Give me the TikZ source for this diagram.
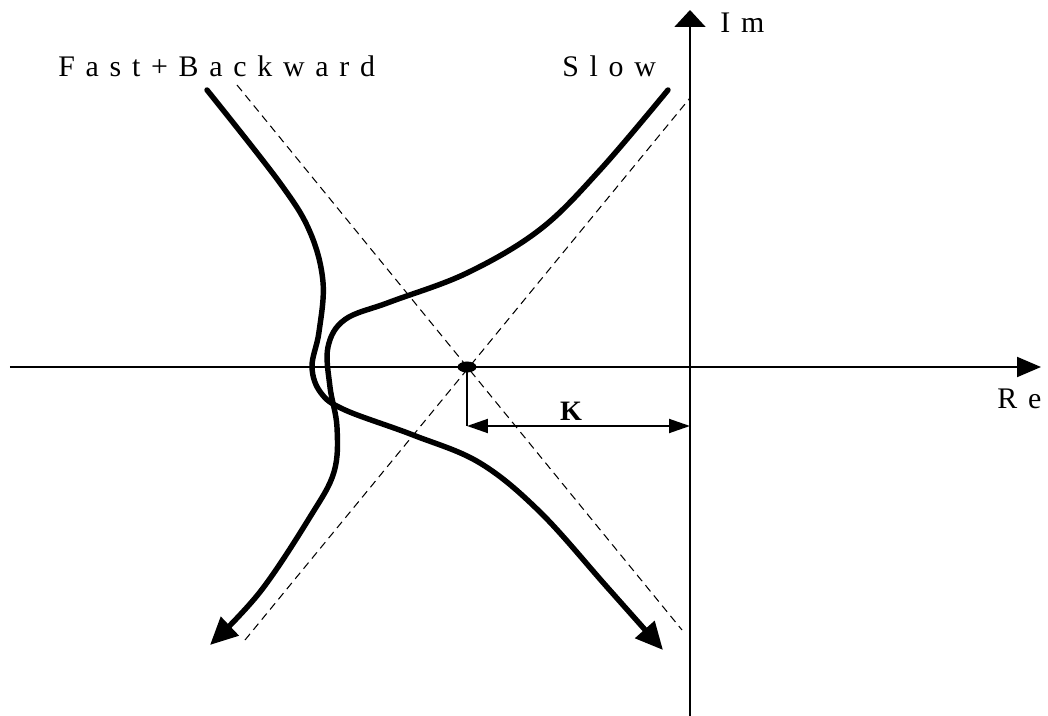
\documentclass[tikz,border=0pt]{standalone}
\usepackage{fontspec}
\setmainfont{Liberation Serif}
\newfontfamily\spacedserif[LetterSpace=36]{Liberation Serif}
\usetikzlibrary{arrows.meta,positioning,shapes.geometric}

\begin{document}
\begin{tikzpicture}[
  axisline/.style={line width=1.1pt},
  locuscurve/.style={line width=3.1pt,line cap=round,line join=round},
  asymptote/.style={line width=0.6pt,dash pattern=on 4.5pt off 3pt},
  axislabel/.style={font=\spacedserif\fontsize{17}{19}\selectfont,anchor=base west,inner sep=0pt},
  curvetip/.style={-{Triangle[length=0.55cm,width=0.5cm]}}
]

%% ── frame ───────────────────────────────────────────────────────────────────
\useasboundingbox (-13.8,-6.98) rectangle (7.16,7.34);

%% ── axes ────────────────────────────────────────────────────────────────────
\coordinate (reStart) at (-13.6,0);
\coordinate (reEnd)   at (7.02,0);
\coordinate (imStart) at (0,-6.98);
\coordinate (imEnd)   at (0,7.14);
\draw[axisline,-{Triangle[length=0.48cm,width=0.4cm]}]  (reStart) -- (reEnd);
\draw[axisline,-{Triangle[length=0.34cm,width=0.62cm]}] (imStart) -- (imEnd);
\node[axislabel] (reLabel) at (6.14,-0.82) {Re};
\node[axislabel] (imLabel) at (0.6,6.68)   {Im};

%% ── asymptotes (dashed) ─────────────────────────────────────────────────────
\coordinate (asymAnw) at (-9.06, 5.64);
\coordinate (asymAse) at (-0.16,-5.26);
\coordinate (asymBsw) at (-8.9,-5.46);
\coordinate (asymBne) at ( 0.0, 5.38);
\draw[asymptote] (asymAnw) -- (asymAse);
\draw[asymptote] (asymBsw) -- (asymBne);

%% ── pole on the real axis ───────────────────────────────────────────────────
\node[ellipse,fill,minimum width=0.38cm,minimum height=0.22cm,inner sep=0pt]
  (pole) at (-4.46,0) {};

%% ── distance K ──────────────────────────────────────────────────────────────
\coordinate (kCorner) at (-4.46,-1.18);
\coordinate (kEnd)    at (0,-1.18);
\draw[axisline] (pole.center) -- (kCorner);
\draw[axisline,{Triangle[length=0.42cm,width=0.28cm]}-{Triangle[length=0.42cm,width=0.28cm]}]
  (kCorner) -- (kEnd);
\node[font=\bfseries\fontsize{16}{18}\selectfont,anchor=base,inner sep=0pt]
  (kLabel) at (-2.38,-1.06) {K};

%% ── Fast+Backward branch: top left, round the nose, out to lower right ──────
\draw[locuscurve,curvetip] plot[smooth,tension=0.6] coordinates {
  (-9.66, 5.54) (-8.2, 3.68) (-7.6, 2.7) (-7.34, 1.7) (-7.42, 0.7)
  (-7.56, 0) (-7.38,-0.52) (-6.9,-0.86) (-5.54,-1.36) (-4.2,-1.92)
  (-3.0,-2.9) (-1.66,-4.4) (-0.54,-5.66)};
\node[axislabel] (fastLabel) at (-12.64,5.8) {Fast+Backward};

%% ── Slow branch: top right, round the nose, down to lower left ──────────────
\draw[locuscurve,curvetip] plot[smooth,tension=0.6] coordinates {
  (-0.44, 5.54) (-1.8, 3.94) (-3.0, 2.75) (-4.46, 1.88) (-6.0, 1.3)
  (-6.9, 0.95) (-7.24, 0.4) (-7.2,-0.4) (-7.06,-1.2) (-7.12,-2.1)
  (-7.6,-3.0) (-8.6,-4.5) (-9.6,-5.56)};
\node[axislabel] (slowLabel) at (-2.56,5.8) {Slow};

\end{tikzpicture}
\end{document}
